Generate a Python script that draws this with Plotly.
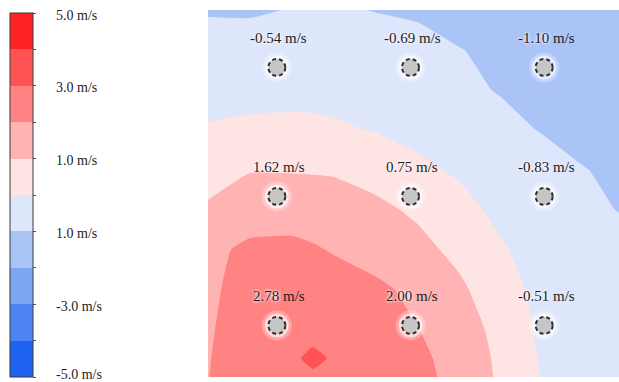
import plotly.graph_objects as go

# ---- measurement grid (m) and interpolated wind-speed field (m/s) ----
grid_x = [-0.03, 0.6, 1.23, 1.54, 1.85, 2.48, 3.11, 3.74, 4.37, 5.0, 5.63, 6.12]
grid_y = [5.69, 5.07, 4.45, 3.83, 3.21, 2.59, 1.97, 1.35, 0.73, 0.29, 0.0]  # top -> bottom

speed_y569 = [-1.06, -1.09, -0.97, -0.94, -0.93, -1.02, -1.08, -1.30, -1.40, -1.45, -1.50, -1.55]
speed_y507 = [-0.72, -0.64, -0.60, -0.60, -0.62, -0.72, -0.82, -0.98, -1.15, -1.30, -1.38, -1.45]
speed_y445 = [-0.35, -0.30, -0.28, -0.30, -0.33, -0.50, -0.65, -0.85, -1.05, -1.20, -1.30, -1.38]
speed_y383 = [0.09, 0.20, 0.23, 0.22, 0.15, -0.05, -0.25, -0.50, -0.80, -1.05, -1.20, -1.30]
speed_y321 = [0.55, 0.96, 0.94, 0.93, 0.915, 0.75, 0.185, -0.126, -0.40, -0.70, -0.99, -1.10]
speed_y259 = [1.15, 1.50, 1.60, 1.50, 1.40, 1.15, 0.89, 0.294, -0.243, -0.55, -0.85, -1.02]
speed_y197 = [1.75, 2.21, 2.215, 2.106, 1.935, 1.60, 1.20, 0.82, 0.08, -0.40, -0.60, -0.75]
speed_y135 = [1.85, 2.33, 2.60, 2.60, 2.45, 2.20, 1.76, 1.12, 0.56, -0.46, -0.55, -0.65]
speed_y073 = [1.90, 2.50, 2.75, 2.70, 2.70, 2.35, 2.02, 1.60, 0.59, -0.21, -0.40, -0.50]
speed_y029 = [1.95, 2.60, 2.85, 3.20, 2.90, 2.45, 2.10, 1.82, 0.71, -0.14, -0.35, -0.45]
speed_y000 = [1.98, 2.55, 2.80, 2.85, 2.75, 2.40, 2.12, 1.86, 0.77, -0.08, -0.30, -0.40]

speed_rows = [speed_y569, speed_y507, speed_y445, speed_y383, speed_y321, speed_y259,
              speed_y197, speed_y135, speed_y073, speed_y029, speed_y000]

# ---- sensors ----
sensor_x = [1.0, 3.0, 5.0, 1.0, 3.0, 5.0, 1.0, 3.0, 5.0]
sensor_y = [4.8, 4.8, 4.8, 2.8, 2.8, 2.8, 0.8, 0.8, 0.8]
sensor_speed = [-0.54, -0.69, -1.10, 1.62, 0.75, -0.83, 2.78, 2.00, -0.51]

# ---- colour scale (one colour per 1 m/s band, -5 .. 5) ----
band_colors = ["#1f63f0", "#4d84f2", "#7ea6f5", "#aac4f8", "#dde6fb",
               "#ffe4e4", "#ffb3b3", "#ff8383", "#ff5252", "#ff2222"]
cbar_tick_vals = [5, 3, 1, -1, -3, -5]
cbar_tick_text = ["5.0 m/s", "3.0 m/s", "1.0 m/s", "1.0 m/s", "-3.0 m/s", "-5.0 m/s"]

# ---- page geometry ----
W, H = 619, 382
M_L, M_R, M_T, M_B = 208, 0, 10, 5
PLOT_W = W - M_L - M_R
PLOT_H = H - M_T - M_B
CB_LEFT, CB_TOP, CB_LEN, CB_THICK = 10, 13, 364, 23
FONT = "Liberation Serif, Times New Roman, serif"


def paper_x(px):
    return (px - M_L) / PLOT_W


def paper_y(py):
    return (H - M_B - py) / PLOT_H


n = len(band_colors)
stepped = []
for i, c in enumerate(band_colors):
    stepped.append([i / n, c])
    stepped.append([(i + 1) / n, c])

y_sorted = list(reversed(grid_y))
z_sorted = list(reversed(speed_rows))

fig = go.Figure()

fig.add_trace(go.Contour(
    x=grid_x, y=y_sorted, z=z_sorted,
    zmin=-5, zmax=5, colorscale=stepped,
    autocontour=False,
    contours=dict(start=-5, end=5, size=1, coloring="fill", showlines=False),
    line=dict(width=0, smoothing=0.4),
    hoverinfo="skip",
    showscale=False,
))

# stand-alone colour bar spanning exactly -5 .. 5 m/s
fig.add_trace(go.Scatter(
    x=[None], y=[None], mode="markers", hoverinfo="skip",
    marker=dict(
        color=[0], cmin=-5, cmax=5, colorscale=stepped, showscale=True,
        colorbar=dict(
            xref="paper", yref="paper",
            x=paper_x(CB_LEFT), xanchor="left",
            y=paper_y(CB_TOP + CB_LEN / 2), yanchor="middle",
            len=CB_LEN, lenmode="pixels",
            thickness=CB_THICK, thicknessmode="pixels",
            outlinewidth=1, outlinecolor="#3a3a3a",
            tickmode="array", tickvals=list(range(-5, 6)),
            ticks="outside", ticklen=3, tickwidth=1, tickcolor="#555",
            showticklabels=False,
            xpad=0, ypad=0,
        ),
    ),
))

# soft white halo around each sensor
fig.add_trace(go.Scatter(
    x=sensor_x, y=sensor_y, mode="markers", hoverinfo="skip",
    marker=dict(size=30, color="rgba(255,255,255,0.28)", line=dict(width=0)),
))
fig.add_trace(go.Scatter(
    x=sensor_x, y=sensor_y, mode="markers", hoverinfo="skip",
    marker=dict(size=24, color="rgba(255,255,255,0.6)", line=dict(width=0)),
))
fig.add_trace(go.Scatter(
    x=sensor_x, y=sensor_y, mode="markers", hoverinfo="skip",
    marker=dict(size=17, color="#c6c6c6", line=dict(width=0)),
))

shapes = []
annotations = []
for sx, sy, v in zip(sensor_x, sensor_y, sensor_speed):
    shapes.append(dict(
        type="circle", xref="x", yref="y",
        xsizemode="pixel", ysizemode="pixel",
        xanchor=sx, yanchor=sy, x0=-8.5, x1=8.5, y0=-8.5, y1=8.5,
        line=dict(color="#2e2e2e", width=2, dash="4px,3px"),
        fillcolor="rgba(0,0,0,0)", layer="above",
    ))
    annotations.append(dict(
        x=sx, y=sy, xref="x", yref="y", showarrow=False,
        text=f"<span style='text-shadow:0 0 3px #fff,0 0 3px #fff'>{v:.2f}</span> m/s",
        yshift=29, xshift=2,
        font=dict(family=FONT, size=15, color="#1c1c1c"),
    ))

# colour bar labels
for v, t in zip(cbar_tick_vals, cbar_tick_text):
    py = CB_TOP + (5 - v) / 10 * CB_LEN
    annotations.append(dict(
        x=paper_x(54), xref="paper", xanchor="left",
        y=paper_y(py), yref="paper", yanchor="middle",
        yshift=-2 if v > -5 else 3, showarrow=False, text=t,
        font=dict(family=FONT, size=14, color="#1c1c1c"),
    ))

fig.update_layout(
    width=W, height=H,
    margin=dict(l=M_L, r=M_R, t=M_T, b=M_B, pad=0),
    paper_bgcolor="white", plot_bgcolor="white",
    showlegend=False,
    xaxis=dict(range=[grid_x[0], grid_x[-1]], visible=False, fixedrange=True),
    yaxis=dict(range=[0, grid_y[0]], visible=False, fixedrange=True),
    shapes=shapes, annotations=annotations,
)

fig.write_html("out.html")
